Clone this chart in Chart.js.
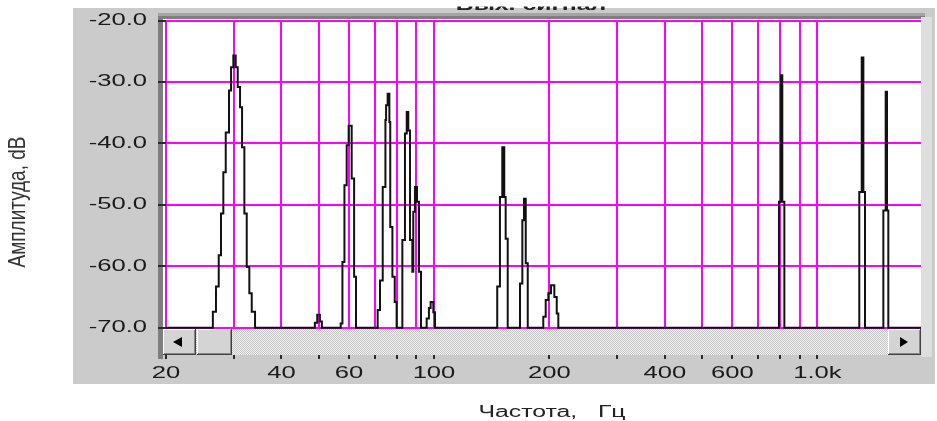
<!DOCTYPE html>
<html><head><meta charset="utf-8">
<script src="https://cdn.jsdelivr.net/npm/chart.js@4.4.1/dist/chart.umd.min.js"></script>
<style>html,body{margin:0;padding:0;background:#fff;overflow:hidden}</style>
</head><body>
<canvas id="c" width="937" height="421" style="display:block;width:937px;height:421px"></canvas>
<script>
// Spectrum: each point = frequency where the level steps to the given dB value
const freqHz = [20,
  26.5,27.0,27.45,27.83,28.22,28.63,29.2,29.56,29.97,30.4,30.77,31.2,31.58,32.02,32.48,32.99,33.47,34.14,
  48.9,49.6,50.4,51.0,
  57.1,57.7,58.4,59.2,59.9,61.0,61.9,62.6,
  71.3,72.3,73.5,74.7,75.0,75.7,76.5,76.9,77.9,79.0,79.9,
  82.7,84.0,84.9,85.7,86.6,87.8,88.3,89.2,90.3,91.4,92.5,
  95.7,97.0,98.0,99.6,100.6,
  146.2,148.6,150.7,152.5,153.8,155.7,
  167.6,170.0,171.7,173.5,175.6,
  192.8,195.6,198.7,201.9,206.0,209.0,211.0,
  794,804,810,820,
  1286,1305,1318,1331,
  1486,1507,1519,1531,
  1863];
const levelDb = [-70,
  -67.4,-63.3,-58.2,-51.4,-44.7,-38.2,-31.4,-27.6,-25.7,-27.6,-30.8,-34.1,-40.6,-51.4,-60.1,-64.4,-67.4,-70,
  -69.2,-67.9,-69.0,-70,
  -69.3,-59.3,-46.8,-40.3,-37.1,-45.7,-61.7,-70,
  -67.1,-62.3,-47.1,-36.2,-33.8,-31.9,-36.5,-53.6,-61.7,-65.8,-70,
  -55.7,-38.4,-34.9,-37.9,-55.7,-60.9,-51.1,-47.1,-49.5,-60.9,-70,
  -68.5,-66.8,-65.8,-67.5,-70,
  -63.3,-48.7,-40.6,-48.7,-55.5,-70,
  -62.8,-52.5,-49.0,-59.5,-70,
  -68.2,-65.5,-64.4,-63.1,-65.0,-67.7,-70,
  -49.5,-28.9,-49.5,-70,
  -47.9,-26.0,-47.9,-70,
  -50.9,-31.6,-50.9,-70,
  -70];
const xTickValues = [20,30,40,50,60,70,80,90,100,200,300,400,500,600,700,800,900,1000];
const xTickLabels = ['20','','40','','60','','','','100','200','','400','','600','','','','1.0k'];
const yTickValues = [-70,-60,-50,-40,-30,-20];
const yTickLabels = ['-70.0','-60.0','-50.0','-40.0','-30.0','-20.0'];
const xTitle = 'Частота,   Гц';
const yTitle = 'Амплитуда, dB';
const topTitle = 'Вых. сигнал';

const SX = 1.6;
const FONT = "'Liberation Sans', Arial, sans-serif";

function bevel(ctx, x, y, w, h) {
  ctx.fillStyle = '#d4d4d4'; ctx.fillRect(x, y, w, h);
  ctx.fillStyle = '#ffffff'; ctx.fillRect(x, y, w - 1, 1); ctx.fillRect(x, y, 1, h - 1);
  ctx.fillStyle = '#404040'; ctx.fillRect(x, y + h - 1, w, 1); ctx.fillRect(x + w - 1, y, 1, h);
  ctx.fillStyle = '#888888'; ctx.fillRect(x + 1, y + h - 2, w - 2, 1); ctx.fillRect(x + w - 2, y + 1, 1, h - 2);
}

const panelPlugin = {
  id: 'panel',
  beforeDraw(chart) {
    const ctx = chart.ctx;
    ctx.save();
    ctx.fillStyle = '#ffffff'; ctx.fillRect(0, 0, 937, 421);
    ctx.fillStyle = '#cbcbcb'; ctx.fillRect(73, 8, 862, 376);
    ctx.fillStyle = '#a4a4a4'; ctx.fillRect(158, 13, 767, 3);
    ctx.fillStyle = '#7e7e7e'; ctx.fillRect(158, 16, 767, 3);
    ctx.fillRect(158, 16, 5, 343);
    ctx.fillStyle = '#dedede'; ctx.fillRect(921, 17, 11, 340);
    ctx.fillStyle = '#ffffff'; ctx.fillRect(163, 19, 758, 336);
    ctx.restore();
    if (!ctx._origFill) ctx._origFill = ctx.fillText;
    const orig = ctx._origFill;
    ctx.fillText = function (t, x, y) {
      this.save(); this.translate(x, y); this.scale(SX, 1); orig.call(this, t, 0, 0); this.restore();
    };
  },
  beforeDatasetsDraw(chart) {
    const ctx = chart.ctx;
    if (ctx._origFill) ctx.fillText = ctx._origFill;
  },
  afterDatasetsDraw(chart) {
    const ctx = chart.ctx;
    ctx.save();
    const pc = document.createElement('canvas'); pc.width = 2; pc.height = 2;
    const p = pc.getContext('2d');
    p.fillStyle = '#f2f2f2'; p.fillRect(0, 0, 2, 2);
    p.fillStyle = '#c4c4c4'; p.fillRect(0, 0, 1, 1); p.fillRect(1, 1, 1, 1);
    ctx.fillStyle = ctx.createPattern(pc, 'repeat');
    ctx.fillRect(163, 329, 758, 26);
    bevel(ctx, 163, 329, 33, 26);
    bevel(ctx, 197, 329, 35, 26);
    bevel(ctx, 888, 329, 33, 26);
    ctx.fillStyle = '#000';
    ctx.beginPath(); ctx.moveTo(173, 342); ctx.lineTo(182, 337); ctx.lineTo(182, 347); ctx.closePath(); ctx.fill();
    ctx.beginPath(); ctx.moveTo(908, 342); ctx.lineTo(900, 337); ctx.lineTo(900, 347); ctx.closePath(); ctx.fill();
    ctx.restore();
  },
  afterDraw(chart) {
    const ctx = chart.ctx;
    ctx.save();
    ctx.fillStyle = '#222';
    ctx.font = '16px ' + FONT;
    ctx.textAlign = 'center'; ctx.textBaseline = 'alphabetic';
    ctx.save(); ctx.translate(552, 417); ctx.scale(1.55, 1); ctx.fillText(xTitle, 0, 0); ctx.restore();
    ctx.save(); ctx.translate(18, 202); ctx.rotate(-Math.PI / 2); ctx.scale(1, 1.25);
    ctx.font = '19px ' + FONT; ctx.textBaseline = 'middle'; ctx.fillStyle = '#333';
    ctx.fillText(yTitle, 0, 0); ctx.restore();
    // top title, mostly cut off by the top edge of the picture
    ctx.save();
    ctx.font = 'bold 16px ' + FONT; ctx.fillStyle = '#222';
    ctx.translate(531, 9.5); ctx.scale(1.55, 1); ctx.fillText(topTitle, 0, 0); ctx.restore();
    ctx.fillStyle = '#ffffff'; ctx.fillRect(380, 0, 320, 6.5);
    ctx.restore();
  }
};

const points = freqHz.map((f, i) => ({ x: f, y: levelDb[i] }));

new Chart(document.getElementById('c'), {
  type: 'line',
  data: { datasets: [{
    data: points, stepped: 'before', borderColor: '#111111', borderWidth: 2,
    pointRadius: 0, tension: 0, fill: false
  }] },
  options: {
    responsive: false, animation: false, devicePixelRatio: 1,
    layout: { padding: { left: 0, right: 16, top: 20, bottom: 0 } },
    plugins: { legend: { display: false }, tooltip: { enabled: false }, title: { display: false } },
    scales: {
      x: {
        type: 'logarithmic', min: 20, max: 1863,
        afterBuildTicks: s => { s.ticks = xTickValues.map(v => ({ value: v })); },
        afterFit: s => { s.height = 66; },
        border: { display: false },
        grid: { color: '#ff00ff', lineWidth: 2, drawTicks: true, tickLength: 4, tickColor: '#2a2a2a', tickWidth: 2 },
        ticks: {
          autoSkip: false, maxRotation: 0, minRotation: 0, padding: 5, color: '#1a1a1a',
          font: { family: FONT, size: 16 },
          callback: (v, i) => xTickLabels[xTickValues.indexOf(v)] ?? ''
        }
      },
      y: {
        type: 'linear', min: -74.44, max: -20,
        afterBuildTicks: s => { s.ticks = yTickValues.map(v => ({ value: v })); },
        afterFit: s => { s.width = 166; },
        border: { display: false },
        grid: { color: '#ff00ff', lineWidth: 2, drawTicks: true, tickLength: 8, tickColor: '#2a2a2a', tickWidth: 2 },
        ticks: {
          autoSkip: false, padding: 11, color: '#1a1a1a',
          font: { family: FONT, size: 16 },
          callback: (v) => yTickLabels[yTickValues.indexOf(v)] ?? ''
        }
      }
    }
  },
  plugins: [panelPlugin]
});
</script>
</body></html>
